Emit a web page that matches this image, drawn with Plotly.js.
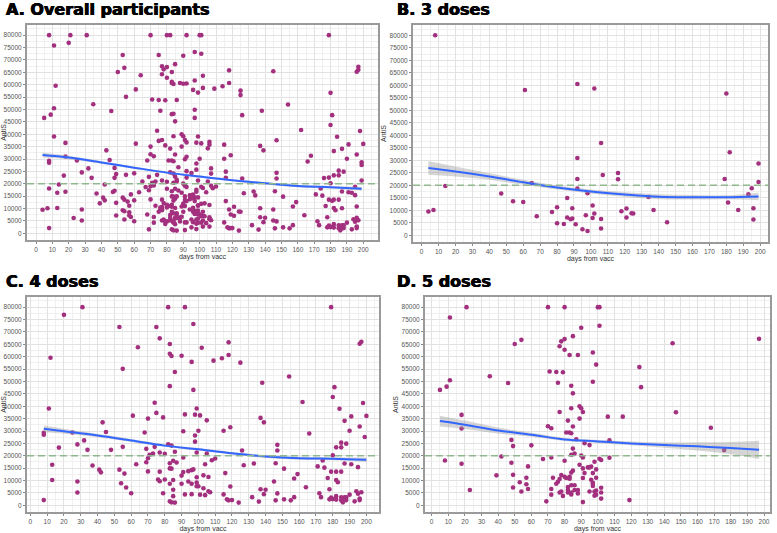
<!DOCTYPE html>
<html>
<head>
<meta charset="utf-8">
<script src="https://cdn.plot.ly/plotly-3.0.1.min.js"></script>
<style>
  html, body { margin: 0; padding: 0; background: #fff; }
  #chart { width: 777px; height: 533px; }
</style>
</head>
<body>
<div id="chart"></div>
<script>
// Anti-S titre against days since last vaccination, by number of doses.

// ---- 3 doses ----
const days3 = [4,7,8,14,47,54,60,61,65,68,
  77,80,80,84,86,86,88,89,89,91,
  92,92,92,92,95,97,98,98,101,101,
  102,102,106,106,106,107,116,116,118,121,
  121,124,125,134,137,145,179,180,181,182,
  187,193,195,196,196,199,199];
const antiS3 = [9500,10100,80000,19700,16700,13600,13300,58100,20900,7600,
  9300,11200,4800,4500,14900,7100,6400,10800,6700,4400,
  60500,30900,22500,18700,2400,8000,1700,16800,11900,6900,
  8700,58700,36900,6500,2700,24100,24900,22400,9600,10700,
  7100,8800,8700,15300,10100,5200,22500,56700,13100,33200,
  10100,16400,18800,10800,6300,28700,21300];

// ---- 4 doses ----
const days4 = [8,8,8,11,12,13,13,17,20,25,
  28,28,28,31,32,34,37,41,42,43,
  45,48,53,53,54,55,55,56,57,60,
  61,63,64,68,69,69,70,70,70,71,
  73,74,74,75,75,76,77,77,77,77,
  79,79,80,80,82,82,83,83,83,83,
  84,84,83,83,84,83,84,85,85,85,
  85,86,86,86,87,90,90,90,91,91,
  91,92,92,92,94,94,96,96,96,96,
  97,97,97,98,98,98,99,99,99,99,
  99,100,100,101,101,102,103,103,104,104,
  105,105,106,106,107,108,109,110,114,115,
  115,116,117,118,118,118,119,119,120,124,
  125,126,127,132,133,136,137,137,138,139,
  139,140,145,146,146,147,147,147,151,151,
  154,155,157,157,159,162,164,166,171,172,
  173,174,175,177,178,178,179,179,179,180,
  180,181,180,182,182,182,182,182,183,184,
  185,185,185,185,185,186,186,187,187,187,
  188,188,188,190,190,191,191,193,194,195,
  195,196,196,196,196,197,197,198,199,200];
const antiS4 = [2100,29300,28500,39100,59600,16400,10200,23300,76900,29400,
  24600,9600,5200,80000,26200,22400,16100,14400,13300,33500,
  29600,22400,72000,14400,8900,55100,23600,12800,7200,4900,
  36200,16600,63800,29400,22800,17400,19000,35000,13700,20400,
  20900,41400,23600,37300,72000,10400,67400,13600,9700,21300,
  35500,4900,20800,10400,24600,80000,17000,48100,65100,61200,
  24100,60300,8700,14900,14800,1600,1200,18000,10200,6300,
  3700,21600,53800,1100,17300,60400,12000,8700,29900,19300,
  13400,36700,80000,4400,13800,9600,57900,4500,14200,8700,
  73200,46600,14500,36600,28200,25700,11300,39100,21300,9200,
  7700,7700,30100,36300,4300,63600,12100,6900,16600,4100,
  34300,20900,11400,5700,5300,18200,58400,18900,59400,4400,
  30100,13000,2400,65800,60700,2000,31500,7600,2100,1100,
  57600,22100,16200,3300,16900,1500,35300,6500,49500,33500,
  4500,6300,9600,17000,2000,24400,22100,4800,14800,2400,
  52000,2000,10800,3300,12600,41700,7300,29000,15700,4900,
  3300,18100,15200,11000,6500,2400,3100,80000,13600,43700,
  20200,47700,2500,23400,13600,10200,3700,2300,9300,39000,
  2000,23400,25300,13600,3200,1200,2000,34100,16900,3200,
  2100,24900,3200,30100,4300,35900,16600,1600,5700,15400,
  4700,65200,31800,2700,2100,66000,5300,41300,27600,36100];

// ---- 5 doses ----
const days5 = [5,8,9,11,11,18,18,18,21,23,
  35,39,42,46,48,48,49,49,49,50,
  53,54,54,57,57,58,58,60,67,69,
  70,70,71,72,72,72,72,73,75,75,
  76,76,77,77,77,77,78,78,78,79,
  79,80,80,80,80,80,81,81,82,82,
  82,82,83,83,83,83,84,84,84,84,
  84,84,84,84,85,85,85,85,85,86,
  86,86,87,88,88,88,89,89,89,90,
  90,90,91,91,91,91,91,92,92,94,
  95,95,95,96,96,97,97,97,97,97,
  97,98,98,98,99,99,99,99,99,100,
  101,101,101,102,102,102,102,106,107,107,
  115,119,125,126,145,147,168,176,197];
const antiS5 = [46600,18100,47900,75800,50500,36500,31000,16800,80000,6200,
  52100,12100,19700,49400,26400,17200,23900,12300,7200,65100,
  9300,66800,5600,11100,8500,15700,6600,24200,18700,1600,
  80000,31900,54000,31100,19300,4300,6600,11100,53800,8700,
  9500,49500,10600,64200,37700,5200,5600,66200,12200,3800,
  53700,80000,67100,62800,18000,11500,11000,29400,34200,7400,
  6300,5200,60700,29400,11500,10700,48300,39200,29100,20400,
  13200,8100,5200,4400,45200,31800,22900,14000,68300,8100,
  6200,20900,26700,60700,6200,4800,40000,35000,16400,39200,
  71700,20100,11000,1300,19300,14900,37700,25100,13000,15300,
  24300,5600,15300,15600,10300,9100,49900,61700,13000,8700,
  7800,17600,5600,3900,56800,14500,11100,6000,4300,80000,
  80000,72500,18800,18300,7100,5200,2700,35800,26200,19200,
  35800,2100,55800,47700,65400,37600,31300,22300,67200];

// ---- overall participants: every dose group together ----
const daysAll = days3.concat(days4, days5);
const antiSAll = antiS3.concat(antiS4, antiS5);

// ---- fitted smooth curves with their standard-error half widths ----
const fitDaysAll = [4,20,40,60,80,100,120,140,160,180,199];
const fitAll     = [31600,30600,28600,26500,24500,22900,21400,20200,19100,18600,18000];
const seAll      = [1000,700,500,400,400,400,400,450,500,550,800];

const fitDays3 = [4,20,40,60,80,100,120,140,160,180,199];
const fit3     = [26900,25500,23500,21200,19100,17500,16300,15400,15200,15200,15500];
const se3      = [2700,2000,1300,1000,800,800,900,1000,900,800,1500];

const fitDays4 = [8,20,40,60,80,100,120,140,160,180,200];
const fit4     = [30900,29900,28200,26200,24100,22600,21000,19700,19000,18800,18400];
const se4      = [1300,1000,700,600,500,500,500,600,600,600,900];

const fitDays5 = [5,20,40,60,80,100,120,140,160,180,197];
const fit5     = [34000,32500,30200,28500,26600,25800,25000,24300,23800,23100,22400];
const se5      = [2200,1700,1200,800,600,600,800,1100,1700,2500,3700];

// protective threshold
const THRESHOLD = 20000;

const panelTitles = ['A. Overall participants', 'B. 3 doses', 'C. 4 doses', 'D. 5 doses'];

const W = 777, H = 533;
const POINT = '#a3307e';
const FIT = '#3366ff';
const BAND = 'rgba(153,153,153,0.4)';

// panel boxes in pixels: [left, right, top, bottom]
const boxes = [
  [27, 378, 25, 240],
  [413, 768, 25, 242],
  [27, 379, 297, 512],
  [425, 770, 297, 512]
];
const xRanges = [[-5.5, 209], [-5.1, 204.6], [-2, 207.5], [-4, 203.6]];
const yRange = [-2700, 84100];

const groups = [
  {d: daysAll, v: antiSAll, fx: fitDaysAll, fy: fitAll, se: seAll},
  {d: days3, v: antiS3, fx: fitDays3, fy: fit3, se: se3},
  {d: days4, v: antiS4, fx: fitDays4, fy: fit4, se: se4},
  {d: days5, v: antiS5, fx: fitDays5, fy: fit5, se: se5}
];

const traces = [];
const layout = {
  width: W, height: H,
  margin: {l: 0, r: 0, t: 0, b: 0},
  paper_bgcolor: '#fff', plot_bgcolor: '#fff',
  showlegend: false,
  font: {family: 'Liberation Sans, Arial, sans-serif'},
  annotations: [], shapes: []
};

groups.forEach((g, i) => {
  const n = i === 0 ? '' : String(i + 1);
  const xa = 'x' + n, ya = 'y' + n;
  const [l, r, t, b] = boxes[i];

  const lo = g.fy.map((y, k) => y - g.se[k]);
  const hi = g.fy.map((y, k) => y + g.se[k]);

  traces.push({
    type: 'scatter', mode: 'markers', x: g.d, y: g.v, xaxis: xa, yaxis: ya,
    marker: {color: POINT, size: 4.6}, hoverinfo: 'x+y'
  });
  traces.push({
    type: 'scatter', mode: 'lines', x: g.fx, y: lo, xaxis: xa, yaxis: ya,
    line: {width: 0, shape: 'spline'}, hoverinfo: 'skip'
  });
  traces.push({
    type: 'scatter', mode: 'lines', x: g.fx, y: hi, xaxis: xa, yaxis: ya,
    line: {width: 0, shape: 'spline'}, fill: 'tonexty', fillcolor: BAND, hoverinfo: 'skip'
  });
  traces.push({
    type: 'scatter', mode: 'lines', x: g.fx, y: g.fy, xaxis: xa, yaxis: ya,
    line: {color: FIT, width: 2, shape: 'spline'}
  });

  const axisCommon = {
    showgrid: true, gridcolor: '#e2e2e2', gridwidth: 1,
    zeroline: false, showline: true, mirror: true,
    linecolor: '#9a9a9a', linewidth: 2,
    ticks: 'outside', ticklen: 2, tickwidth: 1, tickcolor: '#888',
    tickfont: {size: 6.5, color: '#555'},
    fixedrange: true
  };

  layout['xaxis' + n] = Object.assign({}, axisCommon, {
    domain: [l / W, r / W], anchor: ya, range: xRanges[i],
    tick0: 0, dtick: 10,
    minor: {dtick: 5, showgrid: true, gridcolor: '#f0f0f0', gridwidth: 1},
    title: {text: 'days from vacc', font: {size: 7, color: '#333'}, standoff: 2}
  });
  layout['yaxis' + n] = Object.assign({}, axisCommon, {
    domain: [1 - b / H, 1 - t / H], anchor: xa, range: yRange,
    tick0: 0, dtick: 5000, tickformat: 'd',
    minor: {dtick: 2500, showgrid: true, gridcolor: '#f0f0f0', gridwidth: 1},
    title: {text: 'AntiS', font: {size: 7, color: '#333'}, standoff: 2}
  });

  layout.shapes.push({
    type: 'line', xref: xa + ' domain', yref: ya, x0: 0, x1: 1,
    y0: THRESHOLD, y1: THRESHOLD, layer: 'above',
    line: {color: '#8fb88f', width: 1.6, dash: '7px,4px'}
  });

  layout.annotations.push({
    text: panelTitles[i], xref: 'paper', yref: 'paper',
    x: (i % 2 === 0 ? 4 : 395) / W, xanchor: 'left',
    y: 1 - (i < 2 ? 9 : 281) / H, yanchor: 'middle',
    showarrow: false,
    font: {family: 'DejaVu Sans, sans-serif', size: 16, weight: 'bold', color: '#000',
           shadow: '0.5px 0 0 #000, -0.4px 0 0 #000'}
  });
});

Plotly.newPlot('chart', traces, layout, {displayModeBar: false, staticPlot: true});
</script>
</body>
</html>
